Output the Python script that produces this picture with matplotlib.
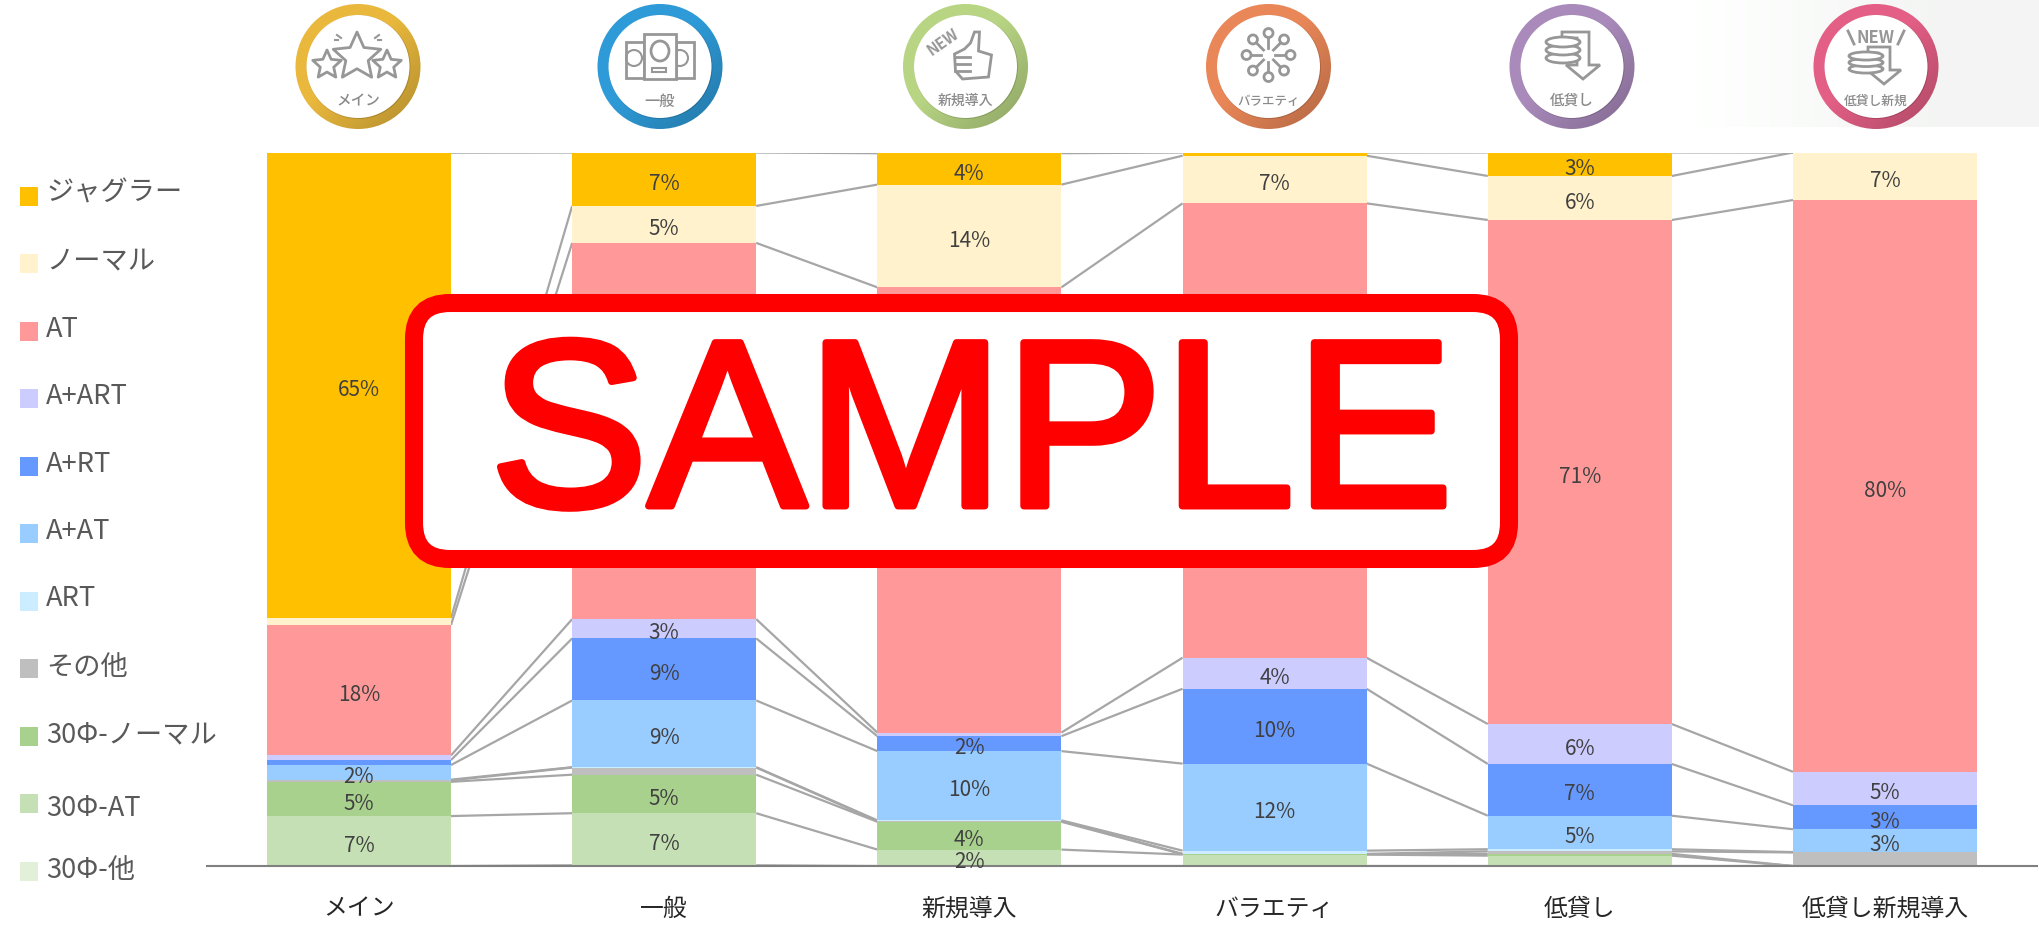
import matplotlib
matplotlib.use('Agg')
import matplotlib.pyplot as plt
import matplotlib.patheffects as pe
from matplotlib.colors import to_rgb
from matplotlib.patches import Circle, Ellipse, FancyBboxPatch, Polygon, Rectangle
import numpy as np

plt.rcParams['font.family'] = ['Noto Sans CJK JP', 'DejaVu Sans']

categories = ['メイン', '一般', '新規導入', 'バラエティ', '低貸し', '低貸し新規導入']
icon_labels = ['メイン', '一般', '新規導入', 'バラエティ', '低貸し', '低貸し新規']

# bottom of the stack first
series_names = ['30Φ-他', '30Φ-AT', '30Φ-ノーマル', 'その他', 'ART', 'A+AT',
                'A+RT', 'A+ART', 'AT', 'ノーマル', 'ジャグラー']
other30 = [0.0, 0.1, 0.0, 0.0, 0.0, 0.0]
at30 = [7.0, 7.3, 2.3, 1.6, 1.45, 0.0]
normal30 = [4.8, 5.4, 3.9, 0.05, 0.25, 0.0]
other = [0.2, 1.0, 0.1, 0.05, 0.35, 1.9]
art = [0.1, 0.05, 0.1, 0.45, 0.3, 0.05]
a_at = [2.05, 9.35, 9.7, 12.2, 4.7, 3.2]
a_rt = [0.7, 8.7, 2.1, 10.49, 7.25, 3.35]
a_art = [0.65, 2.7, 0.5, 4.35, 5.6, 4.7]
at = [18.28, 52.73, 62.4, 63.68, 70.64, 80.14]
normal = [0.98, 5.18, 14.4, 6.68, 6.17, 6.66]
juggler = [65.22, 7.49, 4.4, 0.45, 3.3, 0.0]

series_values = [other30, at30, normal30, other, art, a_at, a_rt, a_art, at, normal, juggler]
series_colors = ['#E2F0D9', '#C5E0B4', '#A9D18E', '#BFBFBF', '#CCECFF', '#99CCFF',
                 '#6699FF', '#CCCCFF', '#FF9999', '#FFF2CC', '#FFC000']
icon_colors = ['#E9B83C', '#2E9BD8', '#B8D583', '#E98758', '#A98ABB', '#E35F85']

W, H = 2040, 929
fig = plt.figure(figsize=(W / 100, H / 100), dpi=100, facecolor='white')

# pale backdrop behind the last icon
bg = fig.add_axes([0, 0, 1, 1], zorder=0)
shade = np.interp(np.linspace(1680, W, 256), [1680, 1950, W], [1, 0.953, 0.953])
bg.imshow(np.dstack([shade, shade + 0.005, shade]).reshape(1, 256, 3).clip(0, 1),
          extent=[1680, W, 128, 0], aspect='auto')
bg.set_xlim(0, W)
bg.set_ylim(H, 0)
bg.axis('off')

# chart
ax = fig.add_axes([207 / W, 1 - 867 / H, 1830 / W, 713.5 / H], zorder=1)
ax.patch.set_alpha(0)
x = np.arange(len(categories))
bar_w = 0.603
bottom = np.zeros(len(categories))
for s, (vals, col) in enumerate(zip(series_values, series_colors)):
    vals = np.array(vals)
    ax.bar(x, vals, bar_w, bottom=bottom, color=col, linewidth=0, zorder=2)
    top = bottom + vals
    # series lines between neighbouring columns
    for i in range(len(x) - 1):
        ax.plot([x[i] + bar_w / 2, x[i + 1] - bar_w / 2], [top[i], top[i + 1]],
                color='#A6A6A6', lw=1.6, zorder=1, solid_capstyle='butt')
    for i, v in enumerate(vals):
        # the AT labels of columns 1-3 sit under the stamp
        if v >= 2 and not (series_names[s] == 'AT' and i in (1, 2, 3)):
            ax.annotate(f'{v:.0f}%', (x[i], bottom[i] + v / 2), xytext=(0, -2.6),
                        textcoords='offset points', ha='center', va='center',
                        fontsize=15, color='#404040', zorder=3)
    bottom = top

ax.set_xlim(-0.498, 5.498)
ax.set_ylim(0, 100)
ax.set_xticks(x)
ax.set_xticklabels(categories, fontsize=17.2, color='#262626')
ax.tick_params(axis='x', length=0, pad=22)
ax.set_yticks([])
for s in ['top', 'left', 'right']:
    ax.spines[s].set_visible(False)
ax.spines['bottom'].set_color('#808080')
ax.spines['bottom'].set_linewidth(1.5)

# overlay in pixel coordinates
ov = fig.add_axes([0, 0, 1, 1], zorder=2)
ov.set_xlim(0, W)
ov.set_ylim(H, 0)
ov.axis('off')

# legend, top entry first
legend_text_dy = [-4, -3, -3, -3, -2, -3, -3, -2, -2, 4, -1]
for i, (name, col) in enumerate(zip(series_names[::-1], series_colors[::-1])):
    yc = 197 + i * 67.5
    ov.add_patch(Rectangle((20, yc - 9.5), 18, 19, color=col, lw=0))
    ov.text(46, yc + legend_text_dy[i], name, fontsize=19.6, color='#595959', va='center', ha='left')

GREY = '#979797'
centers = [358, 660, 965.5, 1268.5, 1572, 1876]
icon_font = [10.5, 11, 10, 9, 10.5, 9.2]


def star(cx, cy, r):
    ang = np.deg2rad(-90 + 36 * np.arange(10))
    rad = np.where(np.arange(10) % 2 == 0, r, r * 0.47)
    return Polygon(np.c_[cx + rad * np.cos(ang), cy + rad * np.sin(ang)], closed=True,
                   fc='white', ec=GREY, lw=2, joinstyle='round')


def coins(cx, cy, w, step):
    for k in [2, 1, 0]:
        ov.add_patch(Ellipse((cx, cy + k * step), w, step * 1.25, fc='white', ec=GREY, lw=2))


def arrow(x0, x1, ytop, ybot, head):
    tip = x1 - 6
    stem = x1 - 12
    pts = [(x0, ytop), (x1, ytop), (x1, ybot - 14), (tip + head, ybot - 14), (tip, ybot),
           (tip - head, ybot - 14), (stem, ybot - 14), (stem, ytop + 6), (x0, ytop + 6)]
    ov.add_patch(Polygon(pts, closed=True, fc='white', ec=GREY, lw=2))


# rings, lighter at top left and darker at bottom right
u, v = np.meshgrid(np.linspace(0, 1, 96), np.linspace(0, 1, 96))
fade = 1 - 0.24 * np.clip(((u + v) / 2 - 0.45) / 0.55, 0, 1)
for cx, col, lab, fs in zip(centers, icon_colors, icon_labels, icon_font):
    ring = np.dstack([np.array(to_rgb(col))[k] * fade for k in range(3)])
    im = ov.imshow(ring, extent=[cx - 63, cx + 63, 131, 5], aspect='auto', zorder=0.5)
    im.set_clip_path(Circle((cx, 67.5), 62.5, transform=ov.transData))
    ov.add_patch(Circle((cx + 0.5, 68), 52, color='black', alpha=0.15, lw=0, zorder=0.6))
    ov.add_patch(Circle((cx, 67.5), 51.5, color='white', lw=0, zorder=0.7))
    ov.text(cx, 101, lab, fontsize=fs, color='#8A8A8A', ha='center', va='center',
            fontweight='medium', zorder=3)
ov.set_xlim(0, W)
ov.set_ylim(H, 0)

# メイン
c = centers[0]
ov.add_patch(star(c - 31, 66, 15))
ov.add_patch(star(c + 29, 66, 15))
ov.add_patch(star(c - 1, 58, 25))
for dx0, dy0, dx1, dy1 in [(-21, 36, -17, 39), (21, 36, 17, 39), (-23, 41, -20, 41), (23, 41, 20, 41)]:
    ov.plot([c + dx0, c + dx1], [dy0, dy1], color=GREY, lw=1.5)

# 一般
c = centers[1]
ov.add_patch(Rectangle((c - 34, 43), 18, 36, fill=False, ec=GREY, lw=2))
ov.add_patch(Rectangle((c + 16, 43), 18, 36, fill=False, ec=GREY, lw=2))
ov.add_patch(Rectangle((c - 16, 35), 32, 45, fc='white', ec=GREY, lw=2, zorder=1.2))
ov.add_patch(Ellipse((c, 52), 18, 20, fill=False, ec=GREY, lw=2, zorder=1.3))
ov.add_patch(Rectangle((c - 8, 69), 14, 4, fill=False, ec=GREY, lw=1.5, zorder=1.3))
ov.add_patch(Circle((c + 20, 59), 8, fill=False, ec=GREY, lw=1.5))
ov.add_patch(Circle((c - 26, 59), 8, fill=False, ec=GREY, lw=1.5))

# 新規導入
c = centers[2] + 4
thumb = [(c - 7, 80), (c - 14, 72), (c - 15, 55), (c - 5, 50), (c + 1, 44), (c + 5, 33), (c + 10, 33),
         (c + 9, 52), (c + 22, 56), (c + 19, 78)]
ov.add_patch(Polygon(thumb, closed=True, fill=False, ec=GREY, lw=2))
for yy in [58, 65, 72]:
    ov.plot([c - 14, c + 1], [yy, yy], color=GREY, lw=2)
ov.text(c - 27, 42, 'NEW', fontsize=11, rotation=35, color=GREY, ha='center', va='center',
        fontweight='bold')

# バラエティ
c = centers[3]
for a in np.deg2rad(np.arange(0, 360, 45)):
    rx = np.cos(a)
    ry = np.sin(a)
    ov.plot([c + 7 * rx, c + 16 * rx], [56 + 7 * ry, 56 + 16 * ry], color=GREY, lw=2)
    ov.add_patch(Ellipse((c + 22 * rx, 56 + 22 * ry), 9, 9, fill=False, ec=GREY, lw=2))

# 低貸し
c = centers[4]
arrow(c - 10, c + 17, 33, 80, 17)
coins(c - 9, 43, 34, 8)

# 低貸し新規
c = centers[5]
arrow(c - 8, c + 14, 48, 85, 17)
coins(c - 10, 57, 34, 6.5)
ov.text(c, 38, 'NEW', fontsize=12, color=GREY, ha='center', va='center', fontweight='bold')
ov.plot([c - 28, c - 22], [32, 45], color=GREY, lw=2)
ov.plot([c + 28, c + 22], [32, 45], color=GREY, lw=2)

# SAMPLE stamp
ov.add_patch(FancyBboxPatch((414 + 36, 304 + 36), 1095 - 72, 256 - 72,
                            boxstyle='round,pad=36,rounding_size=36', fc='white', ec='#FF0000',
                            lw=13, zorder=10))
ov.text(971.5, 445.5, 'SAMPLE', family='Liberation Sans', fontsize=171, color='#FF0000', ha='center',
        va='center', zorder=11, path_effects=[pe.withStroke(linewidth=5, foreground='#FF0000')])

fig.savefig('out.png', dpi=100)
